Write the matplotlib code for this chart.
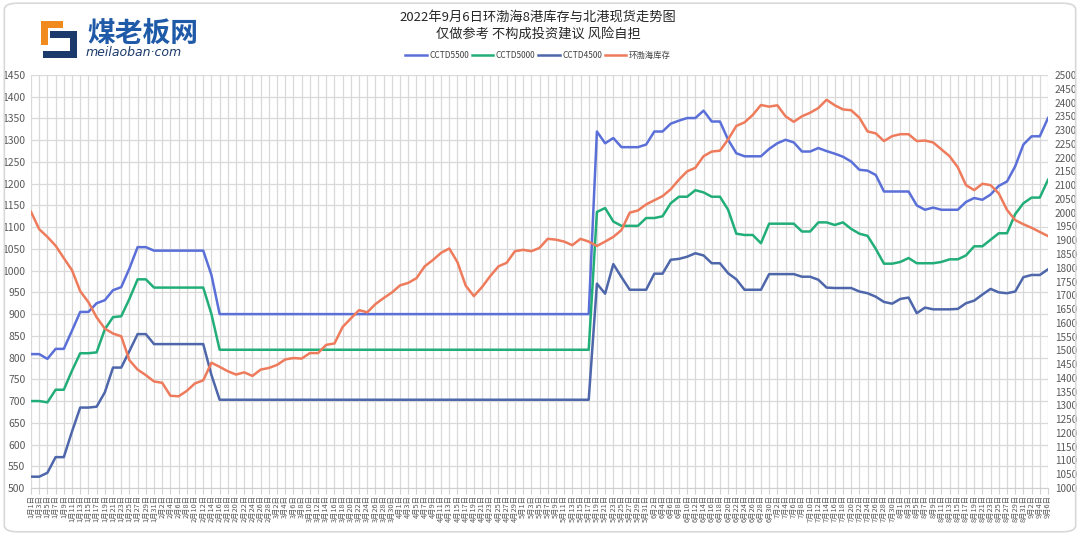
import matplotlib
matplotlib.use('Agg')
import matplotlib.pyplot as plt
from matplotlib.patches import FancyBboxPatch, Polygon
import pandas as pd

plt.rcParams['font.family'] = ['Noto Sans CJK SC', 'DejaVu Sans']

# data: one point every 2 days, 2022-01-01 .. 2022-09-06
dates = pd.date_range('2022-01-01', '2022-09-06', freq='2D')
date_labels = [f'{d.month}月{d.day}日' for d in dates]

cctd5500 = [808, 808, 797, 820, 820, 862, 905, 905, 925, 932, 955, 962, 1005, 1054, 1054,
            1046, 1046, 1046, 1046, 1046, 1046, 1046, 990] + [900] * 46 + \
           [1320, 1293, 1305, 1284, 1284, 1284, 1290, 1320, 1320, 1338, 1345, 1351, 1351, 1368,
            1343, 1343, 1301, 1270, 1263, 1263, 1263, 1280, 1293, 1301, 1295, 1274, 1274, 1282,
            1275, 1269, 1262, 1251, 1232, 1230, 1220, 1182, 1182, 1182, 1182, 1150, 1140, 1145,
            1140, 1140, 1140, 1158, 1167, 1163, 1175, 1195, 1205, 1240, 1290, 1309, 1309, 1351]
cctd5000 = [700, 700, 697, 726, 726, 770, 810, 810, 812, 865, 893, 895, 935, 980, 980,
            961, 961, 961, 961, 961, 961, 961, 900] + [818] * 46 + \
           [1135, 1144, 1113, 1103, 1103, 1103, 1121, 1121, 1125, 1155, 1170, 1170, 1185, 1180,
            1170, 1170, 1140, 1085, 1082, 1082, 1063, 1108, 1108, 1108, 1108, 1090, 1090, 1111,
            1111, 1105, 1111, 1096, 1085, 1080, 1050, 1016, 1016, 1020, 1029, 1017, 1017, 1017,
            1020, 1026, 1026, 1035, 1056, 1056, 1071, 1086, 1086, 1130, 1155, 1168, 1168, 1209]
cctd4500 = [526, 526, 535, 571, 571, 630, 685, 685, 687, 720, 777, 777, 815, 854, 854,
            831, 831, 831, 831, 831, 831, 831, 760] + [703] * 46 + \
           [970, 947, 1015, 985, 956, 956, 956, 993, 993, 1025, 1027, 1032, 1040, 1035,
            1017, 1017, 994, 980, 956, 956, 956, 992, 992, 992, 992, 986, 986, 979,
            961, 960, 960, 960, 952, 948, 940, 928, 924, 935, 938, 902, 915, 911,
            911, 911, 912, 925, 931, 945, 958, 950, 948, 952, 985, 990, 990, 1003]
stock = [2003, 1940, 1912, 1880, 1835, 1791, 1715, 1675, 1620, 1579, 1561, 1551, 1464, 1430,
         1410, 1387, 1382, 1335, 1333, 1353, 1380, 1391, 1455, 1440, 1424, 1412, 1420, 1407,
         1430, 1436, 1447, 1467, 1472, 1470, 1490, 1490, 1520, 1525, 1585, 1616, 1646, 1638,
         1668, 1690, 1710, 1736, 1745, 1762, 1805, 1828, 1854, 1870, 1820, 1735, 1697, 1730,
         1770, 1805, 1818, 1860, 1865, 1860, 1872, 1905, 1902, 1895, 1882, 1905, 1895, 1879,
         1895, 1912, 1937, 2000, 2008, 2030, 2045, 2060, 2085, 2120, 2150, 2163, 2205, 2222,
         2225, 2266, 2315, 2328, 2355, 2391, 2385, 2390, 2350, 2330, 2350, 2363, 2380, 2410,
         2390, 2375, 2372, 2345, 2295, 2288, 2260, 2278, 2285, 2285, 2260, 2262, 2255, 2230,
         2205, 2165, 2100, 2082, 2105, 2100, 2070, 2010, 1973, 1958, 1945, 1930, 1915]

colors = {'CCTD5500': '#5B6FD8', 'CCTD5000': '#22AE78', 'CCTD4500': '#4E66AA', '环渤海库存': '#EE7B5B'}

W, H = 1080, 535


def fpt(px, py):
    # pixel position (from top-left) -> figure fraction
    return px / W, 1 - py / H


fig = plt.figure(figsize=(10.8, 5.35), dpi=100)
fig.patch.set_facecolor('white')
# rounded frame around the picture
fig.patches.append(FancyBboxPatch((0.004, 0.006), 0.992, 0.988, boxstyle='round,pad=0,rounding_size=0.012',
                                  transform=fig.transFigure, fill=False, edgecolor='#D8D8D8', lw=1.2))

ax = fig.add_axes([31 / W, 1 - 488 / H, (1048 - 31) / W, (488 - 75) / H])
ax2 = ax.twinx()
x = list(range(len(dates)))

l1, = ax.plot(x, cctd5500, color=colors['CCTD5500'], lw=1.8, label='CCTD5500')
l2, = ax.plot(x, cctd5000, color=colors['CCTD5000'], lw=1.8, label='CCTD5000')
l3, = ax.plot(x, cctd4500, color=colors['CCTD4500'], lw=1.8, label='CCTD4500')
l4, = ax2.plot(x, stock, color=colors['环渤海库存'], lw=1.8, label='环渤海库存')

ax.set_xlim(0, len(dates) - 1)
ax.set_ylim(500, 1450)
ax2.set_ylim(1000, 2500)
ax.set_yticks(range(500, 1451, 50))
ax2.set_yticks(range(1000, 2501, 50))
ax.set_xticks(x)
ax.set_xticklabels(date_labels, rotation=90, fontsize=5.3, color='#595959')
ax.grid(True, color='#D9D9D9', lw=0.9)
ax.set_axisbelow(True)
for a in (ax, ax2):
    for s in a.spines.values():
        s.set_visible(False)
ax.spines['bottom'].set_visible(True)
ax.spines['bottom'].set_color('#D0D0D0')
ax.tick_params(axis='x', length=4, width=0.8, color='#D0D0D0', pad=1)
ax.tick_params(axis='y', length=0, labelsize=7.5, labelcolor='#595959', pad=4)
ax2.tick_params(axis='y', length=0, labelsize=7.2, labelcolor='#595959', pad=5)

fig.text(*fpt(538, 17), '2022年9月6日环渤海8港库存与北港现货走势图', ha='center', va='center',
         fontsize=9.5, color='#262626')
fig.text(*fpt(538, 34), '仅做参考 不构成投资建议 风险自担', ha='center', va='center',
         fontsize=9.5, color='#262626')
fig.legend(handles=[l1, l2, l3, l4], loc='center', bbox_to_anchor=fpt(538, 55), ncol=4,
           frameon=False, fontsize=6, handlelength=2.6, handletextpad=0.3, columnspacing=0.3,
           labelcolor='#404040')

# logo
orange_mark = [fpt(*p) for p in [(41, 21), (63, 21), (63, 28), (48, 28), (48, 45), (41, 45)]]
navy_mark = [fpt(*p) for p in [(50, 31), (77, 31), (77, 58), (43, 58), (43, 51), (70, 51), (70, 38), (50, 38)]]
fig.patches.append(Polygon(orange_mark, closed=True, transform=fig.transFigure,
                           facecolor='#F08A1C', edgecolor='none'))
fig.patches.append(Polygon(navy_mark, closed=True, transform=fig.transFigure,
                           facecolor='#1B3A6B', edgecolor='none'))
fig.text(*fpt(87, 34), '煤老板网', fontsize=20, color='#1F5AA8', fontweight='bold',
         va='center', ha='left')
fig.text(*fpt(86, 53), 'meilaoban·com', fontsize=9, color='#1B3A6B', style='italic',
         va='center', ha='left', family='DejaVu Sans')

fig.savefig('out.png', dpi=100)
